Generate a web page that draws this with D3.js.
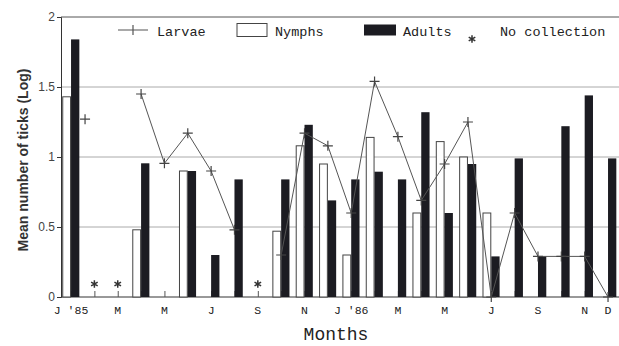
<!DOCTYPE html>
<html>
<head>
<meta charset="utf-8">
<script src="https://cdn.jsdelivr.net/npm/d3@7"></script>
<style>
  body { margin: 0; background: #fff; }
  svg { display: block; }
  .mono { font-family: "Liberation Mono", "DejaVu Sans Mono", monospace; fill: #222; }
</style>
</head>
<body>
<svg id="chart" width="619" height="346"></svg>
<script>
// Month labels (every other month plus December at the end)
const tickMonths = [0, 2, 4, 6, 8, 10, 12, 14, 16, 18, 20, 22, 23];
const tickLabels = ["J '85", "M", "M", "J", "S", "N", "J '86", "M", "M", "J", "S", "N", "D"];

// Months with no collection (Jan '85 = 0)
const noCollection = [1, 2, 8];

// Mean number of ticks (log), one value per month, null = no collection
const nymphs = [1.43, null, null, 0.48, 0, 0.90, 0, 0, null, 0.47, 1.08, 0.95,
                0.30, 1.14, 0, 0.60, 1.11, 1.00, 0.60, 0, 0, 0, 0, 0];
const adults = [1.84, null, null, 0.955, 0, 0.90, 0.30, 0.84, null, 0.84, 1.23, 0.69,
                0.84, 0.895, 0.84, 1.32, 0.60, 0.95, 0.29, 0.99, 0.29, 1.22, 1.44, 0.99];

// Larvae points: month position and value (null breaks the line)
const larvaeMonth = [0.6, 1, 2, 3, 4, 5, 6, 7, 8, 9, 10, 11, 12, 13, 14, 15, 16, 17, 18, 19, 20, 21, 22, 23];
const larvae = [1.27, null, null, 1.45, 0.955, 1.17, 0.90, 0.48, null, 0.30, 1.17, 1.08,
                0.60, 1.54, 1.145, 0.69, 0.95, 1.25, 0, 0.60, 0.29, 0.29, 0.29, 0];

const yTicks = [0, 0.5, 1, 1.5, 2];

const svg = d3.select('#chart');
const margin = { top: 17, right: 0, bottom: 49, left: 61 };
const W = 619, H = 346;

const x = d3.scaleLinear().domain([-0.43, 23.47]).range([margin.left, W - margin.right]);
const y = d3.scaleLinear().domain([0, 2]).range([H - margin.bottom, margin.top]);
const barW = 8.3;

// Gridlines
svg.append('g')
    .selectAll('line')
    .data(yTicks.filter(d => d > 0))
    .enter()
    .append('line')
    .attr('x1', margin.left)
    .attr('x2', W)
    .attr('y1', d => y(d))
    .attr('y2', d => y(d))
    .attr('stroke', d => d === 2 ? '#555' : '#aaa')
    .attr('stroke-width', 1);

// Y axis
const yAxis = svg.append('g')
    .attr('transform', `translate(${margin.left},0)`)
    .call(d3.axisLeft(y).tickValues(yTicks).tickSize(4).tickFormat(d => d));
yAxis.select('.domain').attr('stroke', '#333');
yAxis.selectAll('.tick line').attr('stroke', '#333');
yAxis.selectAll('text')
    .attr('font-family', 'Liberation Sans, Arial, sans-serif')
    .attr('font-size', 12)
    .attr('fill', '#444')
    .attr('x', -6);

// X axis with inward month ticks
const xAxis = svg.append('g')
    .attr('transform', `translate(0,${y(0)})`)
    .call(d3.axisBottom(x).tickValues(d3.range(24)).tickSize(-6).tickFormat(''));
xAxis.select('.domain').attr('stroke', '#333').attr('d', `M${margin.left},0H${W}`);
xAxis.selectAll('.tick line').attr('stroke', '#555');

svg.append('g')
    .selectAll('text')
    .data(tickMonths)
    .enter()
    .append('text')
    .attr('class', 'mono')
    .attr('x', d => x(d))
    .attr('y', 314)
    .attr('text-anchor', 'middle')
    .attr('font-size', 11.5)
    .text((d, i) => tickLabels[i]);

// Nymph bars (open)
svg.append('g')
    .selectAll('rect')
    .data(nymphs.map((v, i) => ({ m: i, v })).filter(d => d.v))
    .enter()
    .append('rect')
    .attr('x', d => x(d.m) - barW)
    .attr('y', d => y(d.v))
    .attr('width', barW - 0.5)
    .attr('height', d => y(0) - y(d.v))
    .attr('fill', '#fff')
    .attr('stroke', '#444')
    .attr('stroke-width', 1);

// Adult bars (filled)
svg.append('g')
    .selectAll('rect')
    .data(adults.map((v, i) => ({ m: i, v })).filter(d => d.v))
    .enter()
    .append('rect')
    .attr('x', d => x(d.m))
    .attr('y', d => y(d.v))
    .attr('width', barW)
    .attr('height', d => y(0) - y(d.v))
    .attr('fill', '#1c1c22');

// Larvae line
const larvaePts = larvae.map((v, i) => ({ m: larvaeMonth[i], v }));
const line = d3.line()
    .defined(d => d.v !== null)
    .x(d => x(d.m))
    .y(d => y(d.v));

svg.append('path')
    .datum(larvaePts)
    .attr('fill', 'none')
    .attr('stroke', '#555')
    .attr('stroke-width', 1)
    .attr('d', line);

svg.append('g')
    .selectAll('path')
    .data(larvaePts.filter(d => d.v !== null))
    .enter()
    .append('path')
    .attr('transform', d => `translate(${x(d.m)},${y(d.v)})`)
    .attr('d', 'M-5,0H5M0,-5V5')
    .attr('stroke', '#444')
    .attr('stroke-width', 1.2);

// No collection markers
const asterisk = d3.symbol().type(d3.symbolAsterisk).size(40);
svg.append('g')
    .selectAll('path')
    .data(noCollection)
    .enter()
    .append('path')
    .attr('transform', d => `translate(${x(d)},${y(0) - 13})`)
    .attr('d', asterisk)
    .attr('stroke', '#333')
    .attr('stroke-width', 1.5);

// Legend
const lg = svg.append('g');
lg.append('path').attr('d', 'M118,30H148M133,25V35').attr('stroke', '#555').attr('stroke-width', 1.2);
lg.append('text').attr('class', 'mono').attr('x', 157).attr('y', 36).attr('font-size', 13.5).text('Larvae');
lg.append('rect').attr('x', 237).attr('y', 23.5).attr('width', 30).attr('height', 13)
    .attr('fill', '#fff').attr('stroke', '#444');
lg.append('text').attr('class', 'mono').attr('x', 275).attr('y', 36).attr('font-size', 13.5).text('Nymphs');
lg.append('rect').attr('x', 364).attr('y', 24.5).attr('width', 32).attr('height', 11).attr('fill', '#1c1c22');
lg.append('text').attr('class', 'mono').attr('x', 403).attr('y', 36).attr('font-size', 13.5).text('Adults');
lg.append('path').attr('transform', 'translate(472,39)').attr('d', asterisk)
    .attr('stroke', '#333').attr('stroke-width', 1.5);
lg.append('text').attr('class', 'mono').attr('x', 500).attr('y', 36).attr('font-size', 13.5).text('No collection');

// Axis titles
svg.append('text')
    .attr('transform', 'translate(28,160) rotate(-90)')
    .attr('text-anchor', 'middle')
    .attr('font-family', 'Liberation Sans, Arial, sans-serif')
    .attr('font-weight', 'bold')
    .attr('font-size', 14)
    .attr('fill', '#333')
    .text('Mean number of ticks (Log)');

svg.append('text')
    .attr('class', 'mono')
    .attr('x', 336)
    .attr('y', 340)
    .attr('text-anchor', 'middle')
    .attr('font-size', 18)
    .text('Months');
</script>
</body>
</html>
